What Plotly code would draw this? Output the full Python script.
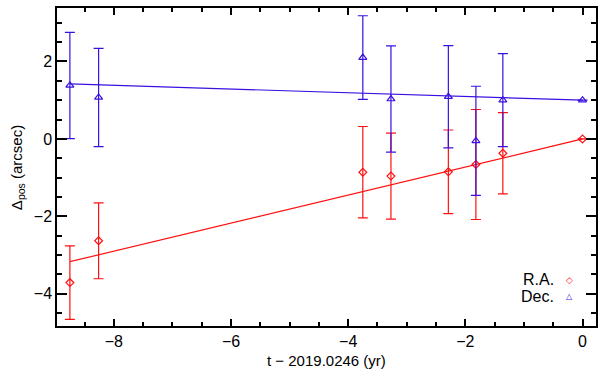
import plotly.graph_objects as go

t_obs = [-8.75, -8.26, -3.75, -3.27, -2.29, -1.82, -1.36, 0.0]
ra_pos = [-3.71, -2.63, -0.86, -0.96, -0.85, -0.66, -0.37, 0.0]
ra_err = [0.95, 0.98, 1.18, 1.11, 1.08, 1.42, 1.05, 0.0]
dec_pos = [1.38, 1.07, 2.10, 1.03, 1.09, -0.05, 1.00, 1.00]
dec_err = [1.37, 1.27, 1.08, 1.37, 1.32, 1.41, 1.20, 0.0]

fit_t = [-8.75, 0.0]
ra_fit = [-3.17, 0.0]
dec_fit = [1.42, 1.00]

RED = "#ff1010"
BLUE = "#3a10e0"
FONT = "Liberation Sans, Arial, Helvetica, sans-serif"

fig = go.Figure()
fig.add_trace(go.Scatter(x=fit_t, y=ra_fit, mode="lines", line=dict(color=RED, width=1.2), showlegend=False))
fig.add_trace(go.Scatter(x=fit_t, y=dec_fit, mode="lines", line=dict(color=BLUE, width=1.2), showlegend=False))
fig.add_trace(go.Scatter(
    x=t_obs, y=ra_pos, mode="markers",
    marker=dict(symbol="diamond-open", size=6, color=RED, line=dict(width=1.2)),
    error_y=dict(type="data", array=ra_err, visible=True, color=RED, thickness=1.2, width=5),
    showlegend=False))
fig.add_trace(go.Scatter(
    x=t_obs, y=dec_pos, mode="markers",
    marker=dict(symbol="triangle-up-open", size=7, color=BLUE, line=dict(width=1.2)),
    error_y=dict(type="data", array=dec_err, visible=True, color=BLUE, thickness=1.2, width=5),
    showlegend=False))

# legend (text left of symbol, as in the reference)
fig.add_annotation(xref="paper", yref="paper", x=0.925, y=0.145, xanchor="right", yanchor="middle",
                   text="R.A.", showarrow=False, font=dict(size=16, color="black", family=FONT))
fig.add_annotation(xref="paper", yref="paper", x=0.925, y=0.094, xanchor="right", yanchor="middle",
                   text="Dec.", showarrow=False, font=dict(size=16, color="black", family=FONT))
fig.add_annotation(xref="paper", yref="paper", x=0.950, y=0.145, xanchor="center", yanchor="middle",
                   text="◇", showarrow=False, font=dict(size=9, color=RED, family="DejaVu Sans"))
fig.add_annotation(xref="paper", yref="paper", x=0.950, y=0.094, xanchor="center", yanchor="middle",
                   text="△", showarrow=False, font=dict(size=8, color=BLUE, family="DejaVu Sans"))

# axis titles
fig.add_annotation(xref="paper", yref="paper", x=0.5, y=-0.110, xanchor="center", yanchor="middle",
                   text="t − 2019.0246 (yr)", showarrow=False, font=dict(size=15, color="black", family=FONT))
fig.add_annotation(xref="paper", yref="paper", x=-0.072, y=0.497, xanchor="center", yanchor="middle",
                   textangle=-90, text="Δ<sub>pos</sub> (arcsec)", showarrow=False,
                   font=dict(size=15, color="black", family=FONT))

axis_common = dict(
    showline=True, linecolor="black", linewidth=1.5, mirror="ticks",
    ticks="inside", tickcolor="black", tickwidth=1.5,
    showgrid=False, zeroline=False, automargin=False,
    tickfont=dict(size=16, color="black", family=FONT),
)
fig.update_xaxes(
    **axis_common, range=[-8.97, 0.23], dtick=2, tick0=0, ticklen=7,
    minor=dict(dtick=0.5, ticks="inside", ticklen=4, tickcolor="black", tickwidth=1.5),
)
fig.update_yaxes(
    **axis_common, range=[-4.83, 3.38], dtick=2, tick0=0, ticklen=10,
    minor=dict(dtick=0.5, ticks="inside", ticklen=5, tickcolor="black", tickwidth=1.5),
)
fig.update_layout(
    width=598, height=371,
    margin=dict(l=57, r=2, t=8, b=45),
    paper_bgcolor="white", plot_bgcolor="white",
    font=dict(family=FONT, color="black"),
)
fig.write_html("out.html", config={"displayModeBar": False},
               post_script="document.body.style.margin='0';document.body.style.overflow='hidden';")
